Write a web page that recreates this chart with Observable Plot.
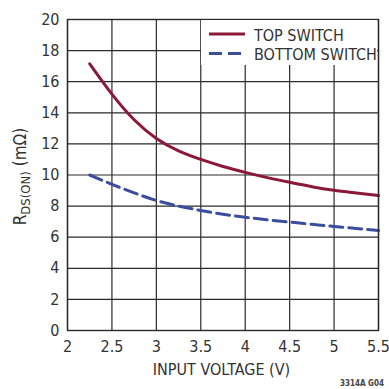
<!DOCTYPE html>
<html>
<head>
<meta charset="utf-8">
<script src="https://cdn.jsdelivr.net/npm/d3@7"></script>
<script src="https://cdn.jsdelivr.net/npm/@observablehq/plot@0.6"></script>
<style>
  html, body { margin: 0; padding: 0; background: #fff; }
  #chart { position: relative; width: 389px; height: 389px; }
  #legend { position: absolute; background: #fff; }
  #legend svg { display: block; overflow: visible; }
</style>
</head>
<body>
<div id="chart"></div>
<script>
// On-resistance vs. input voltage
const voltage   = [2.25, 2.5, 2.75, 3, 3.25, 3.5, 3.75, 4, 4.25, 4.5, 4.75, 5, 5.25, 5.5];
const topSwitch = [17.15, 15.2, 13.55, 12.35, 11.55, 11.0, 10.55, 10.17, 9.83, 9.53, 9.25, 9.02, 8.84, 8.68];
const botSwitch = [10.0, 9.4, 8.85, 8.36, 8.0, 7.72, 7.48, 7.28, 7.12, 6.97, 6.83, 6.69, 6.56, 6.43];

const xTicks = [2, 2.5, 3, 3.5, 4, 4.5, 5, 5.5];
const yTicks = [0, 2, 4, 6, 8, 10, 12, 14, 16, 18, 20];

const seriesNames  = ["TOP SWITCH", "BOTTOM SWITCH"];
const seriesColors = ["#8c1838", "#3b4d9c"];
const seriesDash   = [null, "13,6"];

const font = "'Liberation Sans Narrow', 'DejaVu Sans Condensed', 'Liberation Sans', sans-serif";
const ink = "#333";
const gridInk = "#2a2a2a";

const rows = [
  ...voltage.map((v, i) => ({v, r: topSwitch[i], s: seriesNames[0]})),
  ...voltage.map((v, i) => ({v, r: botSwitch[i], s: seriesNames[1]}))
];

const chart = Plot.plot({
  width: 389,
  height: 389,
  marginLeft: 67,
  marginRight: 11,
  marginTop: 19,
  marginBottom: 59,
  style: {fontFamily: font, fontSize: "16px", color: ink, background: "#fff"},
  x: {domain: [2, 5.5], label: null},
  y: {domain: [0, 20], label: null},
  marks: [
    Plot.ruleX(xTicks, {stroke: gridInk, strokeWidth: 1.2}),
    Plot.ruleY(yTicks, {stroke: gridInk, strokeWidth: 1.2}),
    Plot.line(rows.filter(d => d.s === seriesNames[0]), {
      x: "v", y: "r", stroke: seriesColors[0], strokeWidth: 3, curve: "natural"
    }),
    Plot.line(rows.filter(d => d.s === seriesNames[1]), {
      x: "v", y: "r", stroke: seriesColors[1], strokeWidth: 3, curve: "natural",
      strokeDasharray: seriesDash[1]
    }),
    Plot.frame({stroke: gridInk, strokeWidth: 1.4}),
    Plot.axisX(xTicks, {tickSize: 0, tickPadding: 10, tickFormat: d => String(d), fill: ink}),
    Plot.axisY(yTicks, {tickSize: 0, tickPadding: 8, fill: ink})
  ]
});

const host = document.getElementById("chart");
host.appendChild(chart);

const svg = d3.select(chart);
const sx = chart.scale("x"), sy = chart.scale("y");
const frameLeft = sx.apply(2), frameRight = sx.apply(5.5);
const frameTop = sy.apply(20), frameBottom = sy.apply(0);

// Legend: white panel in the upper-right corner of the plot area
const lx = sx.apply(3.5) + 1, ly = frameTop + 1;
const lw = frameRight - lx - 1, lh = 45;
const legendDiv = d3.select(host).append("div")
  .attr("id", "legend")
  .style("left", lx + "px").style("top", ly + "px")
  .style("width", lw + "px").style("height", lh + "px");
const lsvg = legendDiv.append("svg").attr("width", lw).attr("height", lh);
seriesNames.forEach((name, i) => {
  const yy = 14 + i * 19.5;
  lsvg.append("line")
    .attr("x1", 8).attr("x2", 44)
    .attr("y1", yy).attr("y2", yy)
    .attr("stroke", seriesColors[i]).attr("stroke-width", 3)
    .attr("stroke-dasharray", seriesDash[i]);
  lsvg.append("text")
    .attr("x", 53).attr("y", yy + 1)
    .attr("dy", "0.36em")
    .attr("text-anchor", "start")
    .attr("font-family", font).attr("font-size", 16).attr("fill", ink)
    .text(name);
});

// Y-axis title with subscript
const yTitle = svg.append("text")
  .attr("font-family", font).attr("font-size", 17).attr("fill", ink)
  .attr("text-anchor", "middle")
  .attr("transform", `translate(${frameLeft - 41},${(frameTop + frameBottom) / 2 + 2}) rotate(-90)`);
yTitle.append("tspan").text("R");
yTitle.append("tspan").attr("font-size", 13).attr("dy", 4).text("DS(ON)");
yTitle.append("tspan").attr("dy", -4).text(" (mΩ)");

// X-axis title
svg.append("text")
  .attr("font-family", font).attr("font-size", 16).attr("fill", ink)
  .attr("text-anchor", "middle")
  .attr("x", (frameLeft + frameRight) / 2 - 1).attr("y", frameBottom + 45)
  .text("INPUT VOLTAGE (V)");

// Figure code
svg.append("text")
  .attr("font-family", font).attr("font-size", 8).attr("font-weight", "bold").attr("fill", "#444")
  .attr("text-anchor", "end")
  .attr("x", 384).attr("y", 386)
  .text("3314A G04");
</script>
</body>
</html>
